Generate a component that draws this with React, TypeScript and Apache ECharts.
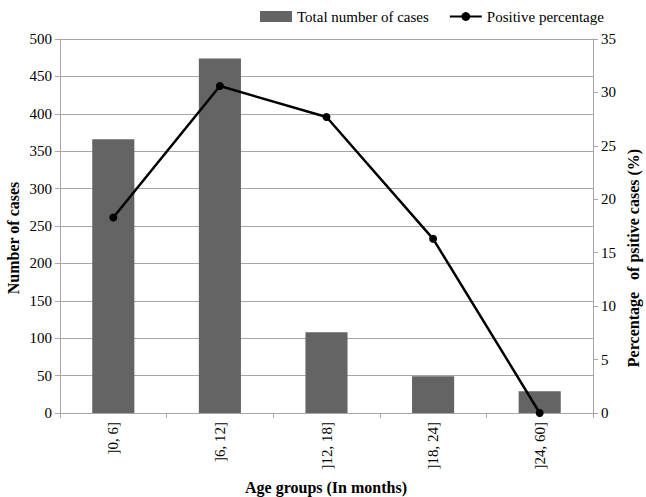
import React, { useEffect, useRef } from "react";
import * as echarts from "echarts";

const categories = ["]0, 6]", "]6, 12]", "]12, 18]", "]18, 24]", "]24, 60]"];
const totalCases = [366, 474, 108, 49, 29];
const positivePct = [18.3, 30.6, 27.7, 16.3, 0];

const leftTicks = { min: 0, max: 500, interval: 50 };
const rightTicks = { min: 0, max: 35, interval: 5 };

const FONT = "Liberation Serif";
const AXIS_GRAY = "#a6a6a6";

export default function App() {
  const ref = useRef<HTMLDivElement>(null);
  useEffect(() => {
    if (!ref.current) return;
    const chart = echarts.init(ref.current, undefined, { renderer: "svg" });
    const labelStyle = {
      fontFamily: FONT,
      fontSize: 15,
      color: "#000",
      fontWeight: "normal",
    };
    chart.setOption({
      animation: false,
      backgroundColor: "#ffffff",
      textStyle: { fontFamily: FONT, color: "#000" },
      legend: {
        top: 4,
        left: 255,
        itemWidth: 32,
        itemHeight: 11,
        itemGap: 20,
        textStyle: { fontFamily: FONT, fontSize: 15, color: "#000" },
        data: [
          { name: "Total number of cases", icon: "rect" },
          { name: "Positive percentage" },
        ],
      },
      grid: { left: 60, right: 53, top: 39, bottom: 84, containLabel: false },
      xAxis: {
        type: "category",
        data: categories,
        axisLine: { lineStyle: { color: AXIS_GRAY, width: 1 } },
        axisTick: { show: true, length: 5, lineStyle: { color: AXIS_GRAY } },
        axisLabel: { ...labelStyle, rotate: 90, margin: 9 },
      },
      yAxis: [
        {
          type: "value",
          ...leftTicks,
          axisLine: { show: true, lineStyle: { color: AXIS_GRAY } },
          axisTick: { show: true, length: 5, lineStyle: { color: AXIS_GRAY } },
          splitLine: { show: true, lineStyle: { color: AXIS_GRAY, width: 1 } },
          axisLabel: { ...labelStyle, margin: 8 },
        },
        {
          type: "value",
          ...rightTicks,
          position: "right",
          axisLine: { show: true, lineStyle: { color: AXIS_GRAY } },
          axisTick: { show: true, length: 5, lineStyle: { color: AXIS_GRAY } },
          splitLine: { show: false },
          axisLabel: { ...labelStyle, margin: 8 },
        },
      ],
      series: [
        {
          name: "Total number of cases",
          type: "bar",
          data: totalCases,
          barWidth: "39.5%",
          itemStyle: { color: "#646464" },
          yAxisIndex: 0,
        },
        {
          name: "Positive percentage",
          type: "line",
          data: positivePct,
          yAxisIndex: 1,
          symbol: "circle",
          symbolSize: 8,
          lineStyle: { color: "#000", width: 2.5 },
          itemStyle: { color: "#000" },
        },
      ],
      graphic: [
        {
          type: "text",
          x: 13,
          y: 238,
          rotation: Math.PI / 2,
          style: {
            text: "Number of cases",
            fontFamily: FONT,
            fontSize: 16,
            fontWeight: "bold",
            fill: "#000",
            align: "center",
            verticalAlign: "middle",
          },
        },
        {
          type: "text",
          x: 633,
          y: 258,
          rotation: Math.PI / 2,
          style: {
            text: "Percentage   of psitive cases (%)",
            fontFamily: FONT,
            fontSize: 16,
            fontWeight: "bold",
            fill: "#000",
            align: "center",
            verticalAlign: "middle",
          },
        },
        {
          type: "text",
          x: 326,
          y: 487,
          style: {
            text: "Age groups (In months)",
            fontFamily: FONT,
            fontSize: 16,
            fontWeight: "bold",
            fill: "#000",
            align: "center",
            verticalAlign: "middle",
          },
        },
      ],
    });
    return () => chart.dispose();
  }, []);
  return (
    <div
      ref={ref}
      style={{ position: "fixed", left: 0, top: 0, width: 646, height: 497 }}
    />
  );
}
